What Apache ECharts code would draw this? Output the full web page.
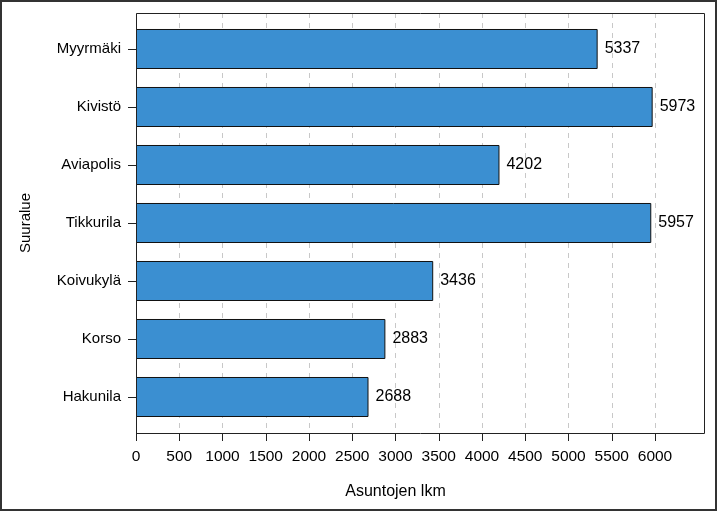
<!DOCTYPE html>
<html><head><meta charset="utf-8">
<script src="https://cdn.jsdelivr.net/npm/echarts@6/dist/echarts.min.js"></script>
<style>html,body{margin:0;padding:0;background:#fff}#c{width:717px;height:512px}</style>
</head><body><div id="c"></div>
<script>
const categories = ["Myyrmäki","Kivistö","Aviapolis","Tikkurila","Koivukylä","Korso","Hakunila"];
const values = [5337,5973,4202,5957,3436,2883,2688];
const xTickMax = 6000;
const xTickStep = 500;

const FONT = '"Liberation Sans", Arial, sans-serif';
const chart = echarts.init(document.getElementById('c'), null, {renderer:'canvas'});
chart.setOption({
  animation:false,
  backgroundColor:'#fff',
  textStyle:{fontFamily:FONT},
  grid:[
    {left:136, width:519, top:20, height:406},
    {left:136, width:519, top:13, height:420}
  ],
  xAxis:[
    {gridIndex:0, type:'value', min:0, max:xTickMax, show:false},
    {gridIndex:1, type:'value', min:0, max:xTickMax, interval:xTickStep,
     axisLine:{show:false},
     axisTick:{show:true, length:8, lineStyle:{color:'#222', width:1}},
     axisLabel:{fontSize:15.5, color:'#000', margin:16, fontFamily:FONT, formatter:v=>String(v)},
     splitLine:{show:true, lineStyle:{color:'#c8c8c8', type:[5,5], width:1}},
     name:'Asuntojen lkm', nameLocation:'middle', nameGap:51,
     nameTextStyle:{fontSize:16, color:'#000', fontFamily:FONT}
    }
  ],
  yAxis:[
    {gridIndex:0, type:'category', data:categories, inverse:true,
     axisLine:{show:false},
     axisTick:{show:true, alignWithLabel:true, length:8, lineStyle:{color:'#222'}},
     axisLabel:{fontSize:15, color:'#000', margin:15, fontFamily:FONT},
     name:'Suuralue', nameLocation:'middle', nameGap:103, nameRotate:90,
     nameTextStyle:{fontSize:15, color:'#000', fontFamily:FONT}
    },
    {gridIndex:1, type:'value', show:false, min:0, max:1}
  ],
  series:[{
    type:'bar', xAxisIndex:0, yAxisIndex:0, data:values,
    barCategoryGap:'31%',
    itemStyle:{color:'#3b8fd1', borderColor:'#111', borderWidth:1},
    label:{show:true, position:'right', distance:7, fontSize:16, color:'#000', fontFamily:FONT}
  }],
  graphic:[
    {type:'rect', shape:{x:136.5, y:13.5, width:568, height:420}, style:{fill:'none', stroke:'#222', lineWidth:1}, z:100},
    {type:'rect', shape:{x:1, y:1, width:715, height:509}, style:{fill:'none', stroke:'#333', lineWidth:2}, z:100}
  ]
});
</script></body></html>
